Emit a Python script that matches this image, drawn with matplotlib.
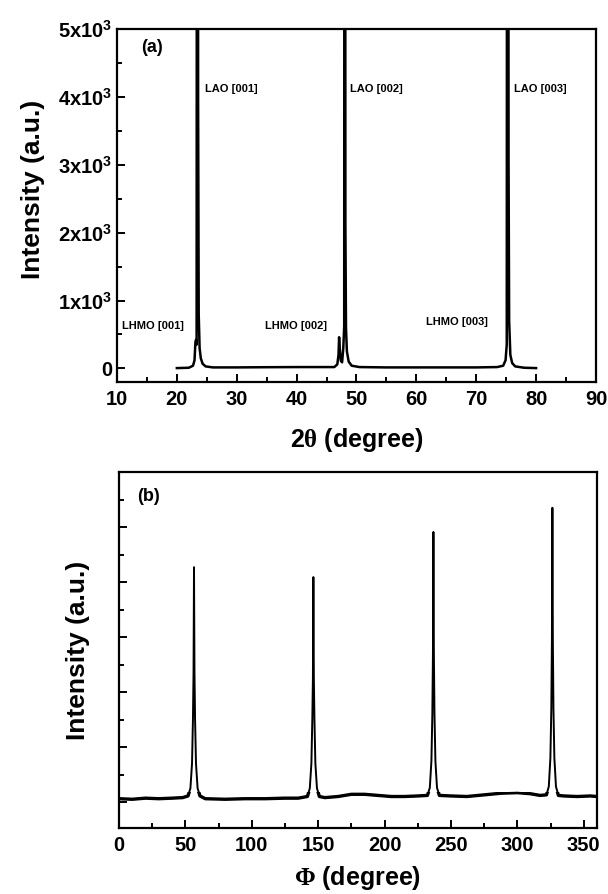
import matplotlib
matplotlib.use("Agg")
import matplotlib.pyplot as plt
from matplotlib.patches import Rectangle
from matplotlib.ticker import MultipleLocator, FixedLocator

plt.rcParams['font.family'] = ['Liberation Sans', 'DejaVu Sans']
plt.rcParams['font.weight'] = 'bold'
plt.rcParams['mathtext.fontset'] = 'custom'
plt.rcParams['mathtext.rm'] = 'Liberation Serif'
plt.rcParams['mathtext.it'] = 'Liberation Serif'
plt.rcParams['mathtext.bf'] = 'Liberation Sans:bold'

# (a) theta-2theta scan: 2theta (deg) and counts
two_theta = [20.0, 22.0, 22.7, 22.95, 23.1, 23.2, 23.3, 23.45, 23.55, 23.65,
             23.8, 24.0, 24.3, 24.8, 26.0, 30.0, 35.0, 40.0, 45.0, 46.3,
             46.8, 47.0, 47.1, 47.2, 47.4, 47.6, 47.8, 47.95, 48.05, 48.15,
             48.25, 48.4, 48.7, 49.2, 50.5, 55.0, 60.0, 65.0, 70.0, 73.5,
             74.5, 74.9, 75.1, 75.25, 75.4, 75.5, 75.7, 76.0, 76.5, 78.0, 80.0]
counts_a = [5, 10, 40, 120, 380, 420, 350, 30000, 3950, 800,
            300, 150, 70, 30, 15, 15, 18, 20, 20, 20,
            60, 200, 460, 300, 110, 90, 300, 620, 30000, 2100,
            600, 250, 100, 40, 20, 15, 15, 15, 15, 20,
            40, 120, 350, 30000, 3050, 700, 200, 80, 30, 10, 5]

# (b) phi scan: phi (deg) and intensity
phi = [0, 10, 20, 30, 40, 48,
       52.0, 53.8, 55.0, 55.7, 56.15, 56.5, 56.85, 57.3, 58.0, 59.2, 61.0,
       65, 80, 95, 110, 125, 135,
       141.9, 143.7, 144.9, 145.6, 146.05, 146.4, 146.75, 147.2, 147.9, 149.1, 150.9,
       155, 165, 175, 185, 195, 205, 215, 225,
       232.3, 234.1, 235.3, 236.0, 236.45, 236.8, 237.15, 237.6, 238.3, 239.5, 241.3,
       250, 262, 275, 288, 300, 310, 317,
       321.9, 323.7, 324.9, 325.6, 326.05, 326.4, 326.75, 327.2, 327.9, 329.1, 330.9,
       335, 345, 355, 360]
counts_b = [60, 50, 70, 60, 70, 80,
            110, 250, 700, 1500, 2350, 4270, 2350, 1500, 700, 250, 110,
            60, 50, 60, 60, 70, 70,
            100, 250, 700, 1500, 2250, 4090, 2250, 1500, 700, 250, 100,
            80, 100, 140, 140, 120, 100, 100, 110,
            120, 260, 750, 1600, 2700, 4910, 2700, 1600, 750, 260, 120,
            110, 100, 130, 160, 170, 150, 120,
            130, 280, 800, 1700, 2950, 5350, 2950, 1700, 800, 280, 120,
            110, 100, 110, 100]

labels_lao = ["LAO [001]", "LAO [002]", "LAO [003]"]
labels_lhmo = ["LHMO [001]", "LHMO [002]", "LHMO [003]"]
ytick_a = [0, 1000, 2000, 3000, 4000, 5000]
ytick_a_labels = ["0", r"$\mathbf{1x10^{3}}$", r"$\mathbf{2x10^{3}}$",
                  r"$\mathbf{3x10^{3}}$", r"$\mathbf{4x10^{3}}$", r"$\mathbf{5x10^{3}}$"]


def style_axes(ax):
    for s in ax.spines.values():
        s.set_linewidth(1.6)
    ax.tick_params(which='both', direction='in', width=1.4, labelsize=14.5)
    ax.tick_params(which='major', length=6)
    ax.tick_params(which='minor', length=3.5)
    ax.tick_params(axis='x', pad=6)
    for lab in ax.get_xticklabels() + ax.get_yticklabels():
        lab.set_fontweight('bold')


fig = plt.figure(figsize=(6.08, 8.94), dpi=100)
ax1 = fig.add_axes([0.1924, 0.5727, 0.7878, 0.3949])
ax2 = fig.add_axes([0.1957, 0.0738, 0.7862, 0.3982])

ax1.plot(two_theta, counts_a, color='black', lw=1.8)
ax1.set_xlim(10, 90)
ax1.set_ylim(-200, 5000)
ax1.xaxis.set_major_locator(MultipleLocator(10))
ax1.xaxis.set_minor_locator(MultipleLocator(5))
ax1.yaxis.set_major_locator(FixedLocator(ytick_a))
ax1.yaxis.set_minor_locator(MultipleLocator(500))
ax1.set_yticklabels(ytick_a_labels)
style_axes(ax1)
ax1.set_xlabel(r"2$\theta$ (degree)", fontsize=18, fontweight='bold', labelpad=12)
ax1.set_ylabel("Intensity (a.u.)", fontsize=19, fontweight='bold')
ax1.yaxis.set_label_coords(-0.15, 0.545)

ax1.text(14.0, 4720, "(a)", fontsize=13, fontweight='bold', va='center')
for x, lab in zip([24.7, 48.9, 76.3], labels_lao):
    ax1.text(x, 4120, lab, fontsize=8, fontweight='bold', va='center')
for x, y, lab in zip([10.8, 34.7, 61.6], [630, 630, 690], labels_lhmo):
    ax1.text(x, y, lab, fontsize=8, fontweight='bold', va='center')

ax2.plot(phi, counts_b, color='black', lw=1.4)
# heavier stroke near the baseline, where the scan is noisy
base = ax2.plot(phi, counts_b, color='black', lw=2.4)[0]
base.set_clip_path(Rectangle((0, -473), 360, 650, transform=ax2.transData))
ax2.set_xlim(0, 360)
ax2.set_ylim(-473, 6000)
ax2.xaxis.set_major_locator(MultipleLocator(50))
ax2.xaxis.set_minor_locator(MultipleLocator(25))
ax2.yaxis.set_major_locator(MultipleLocator(1000))
ax2.yaxis.set_minor_locator(MultipleLocator(500))
ax2.set_yticklabels([])
style_axes(ax2)
ax2.set_xlabel(r"$\Phi$ (degree)", fontsize=18, fontweight='bold', labelpad=6)
ax2.set_ylabel("Intensity (a.u.)", fontsize=19, fontweight='bold')
ax2.yaxis.set_label_coords(-0.061, 0.5)
ax2.text(14, 5550, "(b)", fontsize=13, fontweight='bold', va='center')

fig.savefig("out.png", dpi=100)
